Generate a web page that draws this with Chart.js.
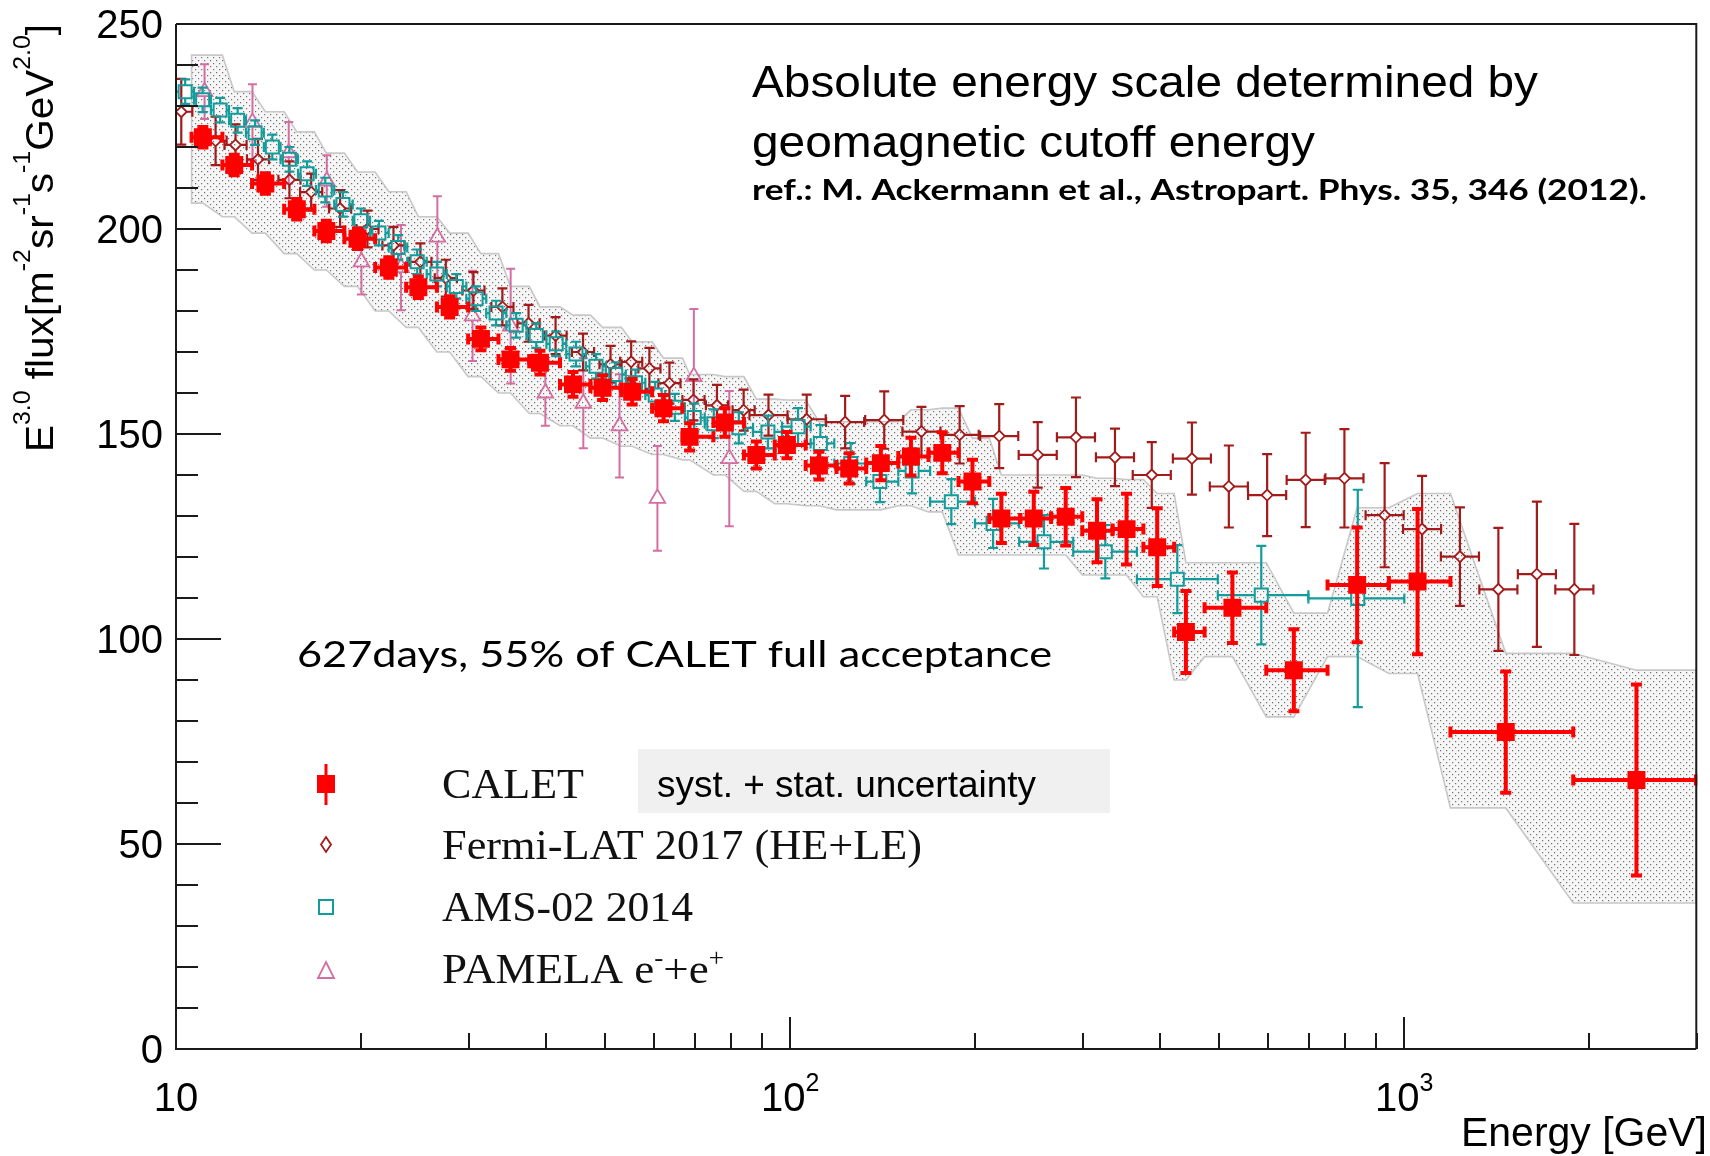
<!DOCTYPE html>
<html><head><meta charset="utf-8">
<script src="https://cdn.jsdelivr.net/npm/chart.js@4.4.1/dist/chart.umd.min.js"></script>
<style>html,body{margin:0;padding:0;background:#fff;overflow:hidden}canvas{display:block}</style>
</head><body>
<canvas id="c" width="1710" height="1156" style="width:1710px;height:1156px"></canvas>
<script>
// ---------------- DATA ----------------
// CALET (GeV, E^3 flux, stat error, bin edges)
const caletE    = [11.06,12.44,13.98,15.73,17.57,19.75,22.21,24.81,27.9,31.37,35.05,39.14,44.3,49.5,55.3,62.2,68.6,78.3,88.1,98.8,111.4,124.8,140.5,157.3,176.9,198.1,220.8,249.3,281,316,353,396,441,525,661,838,1051,1463,2388];
const caletFlux = [222.4,215.6,211.1,204.8,199.5,197.6,190.6,185.8,181,173.2,168.2,167.4,162.1,161.3,160.3,156.3,149.3,152.8,144.9,147.3,142.3,141.6,142.9,144.5,145.4,138.4,129.4,129.4,129.8,126.4,126.8,122.4,101.7,107.6,92.4,113.2,114,77.3,65.6];
const caletErr  = [2.5,2.5,2.5,2.5,2.5,2.5,2.5,2.6,2.6,2.8,2.8,2.9,3,3,3.1,3.2,3.3,3.5,3.3,3.2,3.4,3.7,4.2,4.6,5,5.3,6,6.5,7,7.7,8.6,9.5,10,8.6,10,14,17.7,14.8,23.3];
const caletLo   = [10.6,11.9,13.3,15.0,16.8,18.8,21.1,23.7,26.6,29.9,33.5,37.6,42.2,47.3,53.1,59.6,66.8,75.0,84.1,94.4,106,119,133,150,168,188,211,237,266,299,335,376,422,473,596,750,944,1189,1884];
const caletHi   = [11.9,13.3,15.0,16.8,18.8,21.1,23.7,26.6,29.9,33.5,37.6,42.2,47.3,53.1,59.6,66.8,75.0,84.1,94.4,106,119,133,150,168,188,211,237,266,299,335,376,422,473,596,750,944,1189,1884,2985];
// systematic + statistical band (per CALET bin)
const bandUpper = [242.4,233.5,228.6,223.7,218.5,213.9,209.1,203,199,194,186,181,179,176,172.5,168.5,164.5,164,158.5,158.3,153,153,153,155.9,156.3,149,140,140,140,139.2,138.9,135.5,118.6,118.6,106.3,132,135.5,96.5,92.4];
const bandLower = [206.3,203,199,194,190,186,180,176,170,164,160,155,152,149,147,145,143.7,140,136,133,132.5,131.5,131.5,132.5,131,120.5,120.5,120.5,120.5,115.6,115.6,110.3,90,95.7,81,95.7,91.6,58.8,35.6];

// Fermi-LAT 2017 (HE+LE)
const fermiE    = [10.2,11.6,12.5,13.6,15.3,16.6,18.5,20.5,22.6,25,27.5,30.5,34,37.5,41.5,46,51,55.1,59,63.6,69.6,76,84,92.2,106.4,122.9,142.3,163.6,188.8,219,253,292,338,388,451,518,598,691,799,929,1069,1232,1423,1644,1892];
const fermiFlux = [228.6,221.5,220.5,217,212,209,205,200,196,192,188,185,181,177,174,170,167,167.6,166,162.4,158.3,157,155.8,154.6,153.6,152.9,153.4,150.6,149.8,149.5,144.9,149.2,144.3,140,144,137.2,135.1,138.8,139.2,130.2,126.8,120.1,112.1,115.8,112.1];
const fermiErr  = [8,5.9,5,5,4.5,4.5,4.5,4.5,4.5,4.5,4.5,4.5,4.5,4.5,4.5,4.5,4.5,5,5,5,5,5,5,5,6,6.4,7,6,7,7.8,8,9.7,7,8,8.8,10,10,11.5,12,12.7,13,12,15,17.7,16];
const fermiHalfBinLog = [0.018,0.018,0.018,0.018,0.018,0.018,0.018,0.018,0.018,0.018,0.018,0.018,0.018,0.018,0.018,0.018,0.018,0.018,0.018,0.018,0.018,0.018,0.018,0.031,0.031,0.031,0.031,0.031,0.031,0.031,0.031,0.031,0.031,0.031,0.031,0.031,0.031,0.031,0.031,0.031,0.031,0.031,0.031,0.031,0.031];

// AMS-02 2014
const amsE    = [10.35,11.05,11.8,12.6,13.45,14.35,15.3,16.35,17.5,18.7,20.0,21.4,23.0,24.7,26.6,28.6,30.8,33.2,35.8,38.6,41.6,44.8,48.3,52.0,56.0,60.3,64.9,69.8,75.1,82.5,92.0,103,112,125.5,140,158,183,214,259,326,427,585,840];
const amsFlux = [233.5,231.5,229,226.5,223.5,220,217,213.5,209.5,206,202,199,195.5,192,189,186,183,179.5,176.5,174,172,169.5,166.5,164.5,162.5,159.5,156.5,154,152.5,151.5,150.5,151.8,147.7,142.8,138.4,141,133.5,128.2,123.7,121.3,114.6,110.7,109.9];
const amsErr  = [3,3,3,3,3,3,3,3,3,3,3,3,3,3,3,3,3,3,3,3,3,3,3,3,3.2,3.2,3.3,3.4,3.5,3.8,4,4.5,4.5,5,5,5.5,5.5,6,6.5,6.5,8.3,12,26.5];
const amsLo   = [10.0,10.7,11.4,12.2,13.0,13.9,14.8,15.8,16.9,18.1,19.4,20.7,22.2,23.8,25.6,27.6,29.7,32.0,34.5,37.2,40.1,43.2,46.5,50.1,54.0,58.1,62.6,67.4,72.6,78.0,87.0,97.0,108,118,133,150,169,200,236,289,367,497,698];
const amsHi   = [10.7,11.4,12.2,13.0,13.9,14.8,15.8,16.9,18.1,19.4,20.7,22.2,23.8,25.6,27.6,29.7,32.0,34.5,37.2,40.1,43.2,46.5,50.1,54.0,58.1,62.6,67.4,72.6,78.0,87.0,97.0,108,118,133,150,169,200,236,289,367,497,698,1000];

// PAMELA e- + e+
const pamE    = [11.13,13.32,15.26,17.6,20.04,23.25,26.64,30.4,35.07,39.94,46.05,52.75,60.8,69.7,79.6];
const pamFlux = [233.5,226,218.6,211.7,192,190.6,198,178.8,176.3,160,157.5,152,134.3,164,144];
const pamErr  = [6.7,9.3,7.5,6.3,8,10.4,10,11,14,8,11,12.6,12.8,16.5,16.5];

// axes
const xMin = 10, xMax = 3000, yMin = 0, yMax = 250;
const yMajorTicks = [0,50,100,150,200,250];
const yTickLabels = ['0','50','100','150','200','250'];
const xMajorTicks = [10,100,1000];
const xTickBase = ['10','10','10'];
const xTickExp  = ['','2','3'];
const xMinorTicks = [20,30,40,50,60,70,80,90,200,300,400,500,600,700,800,900,2000,3000];

const legendLabels = ['CALET','Fermi-LAT 2017 (HE+LE)','AMS-02 2014','PAMELA e'];

// ---------------- STYLE ----------------
const C_CALET = '#ff0000', C_FERMI = '#a31a1a', C_AMS = '#139c9c', C_PAM = '#d46ea2';
const SANS = '"Liberation Sans", Arial, Helvetica, sans-serif';
const SERIF = '"Liberation Serif", "Times New Roman", serif';
const CAL = 'Lato, "Open Sans", sans-serif';

const cv = document.getElementById('c');
const ctx0 = cv.getContext('2d');

function makePattern(ctx) {
  const t = document.createElement('canvas'); t.width = 6; t.height = 6;
  const g = t.getContext('2d');
  g.fillStyle = '#f6f6f6'; g.fillRect(0, 0, 6, 6);
  g.fillStyle = '#707070'; g.fillRect(0, 0, 1.2, 1.2); g.fillRect(3, 3, 1.2, 1.2);
  return ctx.createPattern(t, 'repeat');
}
const bandPattern = makePattern(ctx0);

function pts(E, V) { return E.map((e, i) => ({x: e, y: V[i]})); }

function drawErrors(ctx, chart, E, V, err, xl, xh, st) {
  const xs = chart.scales.x, ys = chart.scales.y;
  ctx.save();
  ctx.strokeStyle = st.color; ctx.lineWidth = st.lw; ctx.lineCap = 'butt';
  for (let i = 0; i < E.length; i++) {
    const px = xs.getPixelForValue(E[i]), py = ys.getPixelForValue(V[i]);
    const yT = ys.getPixelForValue(V[i] + err[i]), yB = ys.getPixelForValue(V[i] - err[i]);
    ctx.beginPath();
    if (yT < py - st.gT) { ctx.moveTo(px, py - st.gT); ctx.lineTo(px, yT); }
    if (yB > py + st.gB) { ctx.moveTo(px, py + st.gB); ctx.lineTo(px, yB); }
    ctx.moveTo(px - st.cap / 2, yT); ctx.lineTo(px + st.cap / 2, yT);
    ctx.moveTo(px - st.cap / 2, yB); ctx.lineTo(px + st.cap / 2, yB);
    if (xl) {
      const xL = xs.getPixelForValue(xl[i]), xR = xs.getPixelForValue(xh[i]);
      if (xL < px - st.gX) { ctx.moveTo(px - st.gX, py); ctx.lineTo(xL, py); }
      if (xR > px + st.gX) { ctx.moveTo(px + st.gX, py); ctx.lineTo(xR, py); }
      ctx.moveTo(xL, py - st.cap / 2); ctx.lineTo(xL, py + st.cap / 2);
      ctx.moveTo(xR, py - st.cap / 2); ctx.lineTo(xR, py + st.cap / 2);
    }
    ctx.stroke();
  }
  ctx.restore();
}

function fitText(ctx, text, x, y, font, width, color) {
  ctx.save(); ctx.font = font; ctx.fillStyle = color || '#000';
  ctx.textAlign = 'left'; ctx.textBaseline = 'alphabetic';
  const w = ctx.measureText(text).width;
  ctx.translate(x, y); ctx.scale(width / w, 1); ctx.fillText(text, 0, 0);
  ctx.restore();
}
// parts: [text, isSup]
function richWidth(ctx, parts, f, fs) {
  let w = 0; parts.forEach(p => { ctx.font = p[1] ? fs : f; w += ctx.measureText(p[0]).width; }); return w;
}
function drawRich(ctx, parts, f, fs, raise, scale) {
  let cx = 0;
  ctx.save(); ctx.scale(scale, 1);
  parts.forEach(p => { ctx.font = p[1] ? fs : f; ctx.fillText(p[0], cx, p[1] ? -raise : 0); cx += ctx.measureText(p[0]).width; });
  ctx.restore();
}

const fermiXLo = fermiE.map((e, i) => e / Math.pow(10, fermiHalfBinLog[i]));
const fermiXHi = fermiE.map((e, i) => e * Math.pow(10, fermiHalfBinLog[i]));

const calPlugin = {
  id: 'calPlugin',
  beforeDatasetsDraw(chart) {
    const {ctx, chartArea: a, scales: {x, y}} = chart;
    const n = caletE.length;
    const up = [[caletLo[0], bandUpper[0]]], lo = [];
    for (let i = 0; i < n; i++) { up.push([caletE[i], bandUpper[i]]); up.push([caletHi[i], bandUpper[i]]); }
    for (let i = 0; i < n; i++) { lo.push([caletLo[i], bandLower[i]]); lo.push([caletE[i], bandLower[i]]); }
    lo.push([caletHi[n - 1], bandLower[n - 1]]);
    ctx.save();
    ctx.beginPath(); ctx.rect(a.left, a.top, a.right - a.left, a.bottom - a.top); ctx.clip();
    ctx.beginPath();
    up.forEach((p, k) => { const px = x.getPixelForValue(p[0]), py = y.getPixelForValue(p[1]); if (k) ctx.lineTo(px, py); else ctx.moveTo(px, py); });
    for (let k = lo.length - 1; k >= 0; k--) ctx.lineTo(x.getPixelForValue(lo[k][0]), y.getPixelForValue(lo[k][1]));
    ctx.closePath();
    ctx.fillStyle = bandPattern; ctx.fill();
    ctx.strokeStyle = '#c8c8c8'; ctx.lineWidth = 1.6; ctx.stroke();
    ctx.restore();
  },
  beforeDatasetDraw(chart, args) {
    const {ctx, chartArea: a} = chart;
    const key = chart.data.datasets[args.index].key;
    ctx.save();
    ctx.beginPath(); ctx.rect(a.left, a.top, a.right - a.left, a.bottom - a.top); ctx.clip();
    if (key === 'calet') drawErrors(ctx, chart, caletE, caletFlux, caletErr, caletLo, caletHi, {color: C_CALET, lw: 4, cap: 11, gT: 0, gB: 0, gX: 0});
    if (key === 'ams') drawErrors(ctx, chart, amsE, amsFlux, amsErr, amsLo, amsHi, {color: C_AMS, lw: 2.2, cap: 10, gT: 6.5, gB: 6.5, gX: 6.5});
    if (key === 'fermi') drawErrors(ctx, chart, fermiE, fermiFlux, fermiErr, fermiXLo, fermiXHi, {color: C_FERMI, lw: 2.2, cap: 10, gT: 5.5, gB: 5.5, gX: 5});
    if (key === 'pam') drawErrors(ctx, chart, pamE, pamFlux, pamErr, null, null, {color: C_PAM, lw: 2, cap: 9, gT: 9, gB: 4.5, gX: 0});
    ctx.restore();
  },
  afterDatasetsDraw(chart) {
    const {ctx, chartArea: a, scales: {x, y}} = chart;
    ctx.save();
    ctx.strokeStyle = '#1a1a1a'; ctx.lineWidth = 2; ctx.lineCap = 'butt';
    ctx.beginPath();
    ctx.moveTo(a.left, a.top); ctx.lineTo(a.left, a.bottom); ctx.lineTo(a.right - 1, a.bottom);
    ctx.moveTo(a.left, a.top); ctx.lineTo(a.right - 1, a.top); ctx.lineTo(a.right - 1, a.bottom);
    for (let v = yMin; v <= yMax; v += 10) {
      const py = Math.round(y.getPixelForValue(v));
      const major = yMajorTicks.indexOf(v) >= 0;
      ctx.moveTo(a.left, py); ctx.lineTo(a.left + (major ? 45 : 22), py);
    }
    xMajorTicks.forEach(e => { const px = Math.round(x.getPixelForValue(e)); ctx.moveTo(px, a.bottom); ctx.lineTo(px, a.bottom - 32); });
    xMinorTicks.forEach(e => { const px = Math.round(x.getPixelForValue(e)); ctx.moveTo(px, a.bottom); ctx.lineTo(px, a.bottom - 16); });
    ctx.stroke();
    ctx.restore();
  },
  afterDraw(chart) {
    const {ctx, chartArea: a, scales: {x, y}} = chart;
    ctx.save();
    ctx.fillStyle = '#000';
    ctx.font = '40px ' + SANS; ctx.textAlign = 'right'; ctx.textBaseline = 'alphabetic';
    yMajorTicks.forEach((v, i) => ctx.fillText(yTickLabels[i], 163, y.getPixelForValue(v) + 14));
    ctx.textAlign = 'left';
    xMajorTicks.forEach((e, i) => {
      const parts = [[xTickBase[i], false]]; if (xTickExp[i]) parts.push([xTickExp[i], true]);
      const f = '40px ' + SANS, fs = '25px ' + SANS;
      const w = richWidth(ctx, parts, f, fs);
      const px = x.getPixelForValue(e);
      ctx.save(); ctx.translate(px - w / 2, 1111); drawRich(ctx, parts, f, fs, 20, 1); ctx.restore();
    });
    fitText(ctx, 'Energy [GeV]', 1707 - 246, 1146, '40px ' + SANS, 246);
    const yt = [['E', false], ['3.0', true], [' flux[m', false], ['-2', true], ['sr', false], ['-1', true], ['s', false], ['-1', true], ['GeV', false], ['2.0', true], [']', false]];
    const fM = '39px ' + SANS, fS = '24px ' + SANS;
    const tw = richWidth(ctx, yt, fM, fS);
    ctx.save(); ctx.translate(53, 452); ctx.rotate(-Math.PI / 2); drawRich(ctx, yt, fM, fS, 23, 428 / tw); ctx.restore();

    fitText(ctx, 'Absolute energy scale determined by', 752, 97, '45px ' + SANS, 786);
    fitText(ctx, 'geomagnetic cutoff energy', 752, 157, '45px ' + SANS, 563);
    fitText(ctx, 'ref.: M. Ackermann et al., Astropart. Phys. 35, 346 (2012).', 752, 200, 'bold 28px ' + CAL, 895);
    fitText(ctx, '627days, 55% of CALET full acceptance', 297, 667, '37px ' + CAL, 755);

    ctx.fillStyle = '#f0f0f0'; ctx.fillRect(638, 749, 472, 64);
    fitText(ctx, 'syst. + stat. uncertainty', 657, 797, '36px ' + SANS, 379);

    // legend
    const lx = 326;
    ctx.strokeStyle = C_CALET; ctx.lineWidth = 3;
    ctx.beginPath(); ctx.moveTo(lx, 764); ctx.lineTo(lx, 805); ctx.stroke();
    ctx.fillStyle = C_CALET; ctx.fillRect(lx - 9, 775, 18, 18);
    ctx.strokeStyle = C_FERMI; ctx.lineWidth = 1.8;
    ctx.beginPath(); ctx.moveTo(lx, 837); ctx.lineTo(lx + 5, 844.5); ctx.lineTo(lx, 852); ctx.lineTo(lx - 5, 844.5); ctx.closePath(); ctx.stroke();
    ctx.strokeStyle = C_AMS; ctx.lineWidth = 2;
    ctx.strokeRect(lx - 7, 900, 14, 14);
    ctx.strokeStyle = C_PAM; ctx.lineWidth = 1.8;
    ctx.beginPath(); ctx.moveTo(lx, 962); ctx.lineTo(lx + 8, 978); ctx.lineTo(lx - 8, 978); ctx.closePath(); ctx.stroke();

    fitText(ctx, legendLabels[0], 442, 798, '43px ' + SERIF, 142, '#111');
    fitText(ctx, legendLabels[1], 442, 859, '43px ' + SERIF, 480, '#111');
    fitText(ctx, legendLabels[2], 442, 921, '43px ' + SERIF, 251, '#111');
    const pm = [[legendLabels[3], false], ['-', true], ['+e', false], ['+', true]];
    const pf = '43px ' + SERIF, pfs = '26px ' + SERIF;
    const pw = richWidth(ctx, pm, pf, pfs);
    ctx.fillStyle = '#111';
    ctx.save(); ctx.translate(442, 983); drawRich(ctx, pm, pf, pfs, 17, 282 / pw); ctx.restore();
    ctx.restore();
  }
};

const chart = new Chart(ctx0, {
  type: 'scatter',
  data: {
    datasets: [
      {key: 'calet', label: 'CALET', data: pts(caletE, caletFlux), pointStyle: 'rect', pointRadius: 12.7,
       pointBackgroundColor: C_CALET, pointBorderColor: C_CALET, pointBorderWidth: 0, order: 1},
      {key: 'ams', label: 'AMS-02 2014', data: pts(amsE, amsFlux), pointStyle: 'rect', pointRadius: 9.2,
       pointBackgroundColor: 'rgba(0,0,0,0)', pointBorderColor: C_AMS, pointBorderWidth: 2, order: 2},
      {key: 'fermi', label: 'Fermi-LAT 2017 (HE+LE)', data: pts(fermiE, fermiFlux), pointStyle: 'rectRot', pointRadius: 5.5,
       pointBackgroundColor: 'rgba(0,0,0,0)', pointBorderColor: C_FERMI, pointBorderWidth: 1.8, order: 3},
      {key: 'pam', label: 'PAMELA', data: pts(pamE, pamFlux), pointStyle: 'triangle', pointRadius: 9,
       pointBackgroundColor: 'rgba(0,0,0,0)', pointBorderColor: C_PAM, pointBorderWidth: 1.8, order: 4}
    ]
  },
  options: {
    responsive: false, animation: false, events: [],
    layout: {padding: {left: 176, right: 1, top: 24, bottom: 107}},
    plugins: {legend: {display: false}, tooltip: {enabled: false}},
    scales: {
      x: {type: 'logarithmic', min: xMin, max: xMax, display: false},
      y: {type: 'linear', min: yMin, max: yMax, display: false}
    }
  },
  plugins: [calPlugin]
});
</script>
</body></html>
